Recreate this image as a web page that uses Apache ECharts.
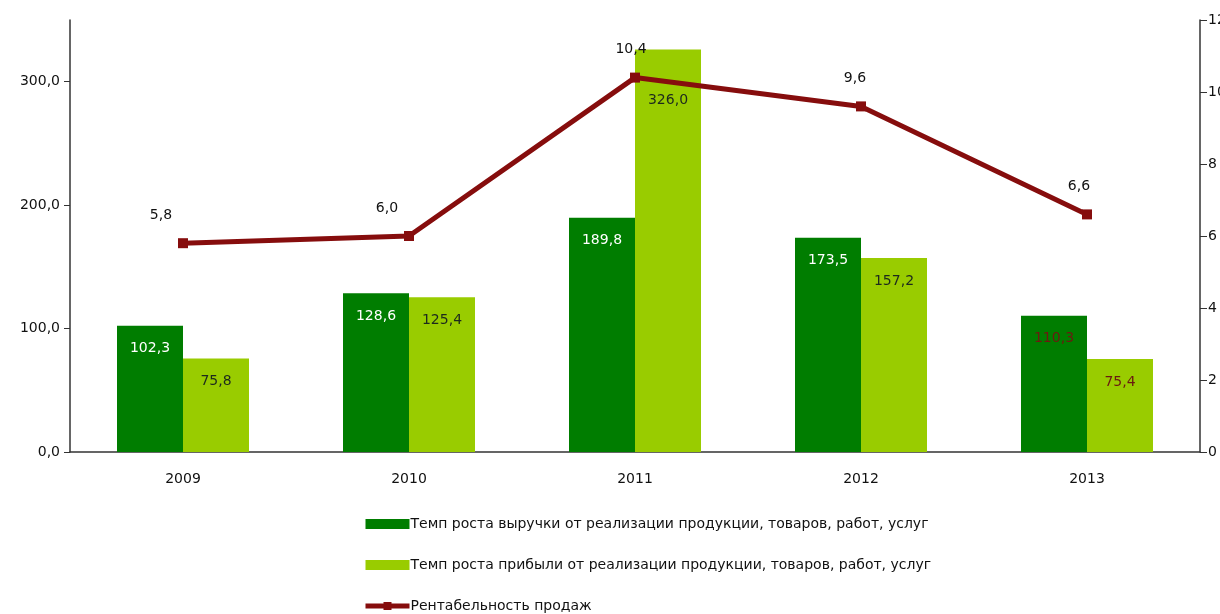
<!DOCTYPE html>
<html><head><meta charset="utf-8">
<script src="https://cdn.jsdelivr.net/npm/echarts@6/dist/echarts.min.js"></script>
<style>html,body{margin:0;padding:0;background:#fff}#c{width:1220px;height:614px}</style>
</head><body><div id="c"></div>
<script>
const categories = ['2009','2010','2011','2012','2013'];
const revenueGrowth = [102.3, 128.6, 189.8, 173.5, 110.3];
const profitGrowth = [75.8, 125.4, 326.0, 157.2, 75.4];
const profitability = [5.8, 6.0, 10.4, 9.6, 6.6];
const leftTicks = [0, 100, 200, 300];
const seriesNames = [
  'Темп роста выручки от реализации продукции, товаров, работ, услуг',
  'Темп роста прибыли от реализации продукции, товаров, работ, услуг',
  'Рентабельность продаж'
];
const fmt = v => v.toFixed(1).replace('.', ',');
const FONT = 'DejaVu Sans, Liberation Sans, sans-serif';
const lineOffsets = [[-22, 0], [-22, 0], [-4, 0], [-6, 0], [-8, 0]];

const revData = revenueGrowth.map((v, i) => ({
  value: v,
  label: { color: i === 4 ? '#6b1a10' : '#ffffff' }
}));
const profData = profitGrowth.map((v, i) => ({
  value: v,
  label: { color: i === 4 ? '#6b1a10' : '#1d2a1d', distance: i === 2 ? 44 : 16 }
}));
const lineData = profitability.map((v, i) => ({ value: v, label: { offset: lineOffsets[i] } }));

const chart = echarts.init(document.getElementById('c'));
chart.setOption({
  animation: false,
  textStyle: { fontFamily: FONT },
  grid: { left: 70, right: 20, top: 20, bottom: 162, containLabel: false, outerBoundsMode: 'none' },
  legend: {
    orient: 'vertical', left: 358, top: 512, height: 200,
    itemWidth: 44, itemHeight: 10, itemGap: 27,
    textStyle: { fontSize: 14, color: '#111', fontFamily: FONT, padding: [0, 0, 0, -4] },
    data: [
      { name: seriesNames[0], icon: 'rect' },
      { name: seriesNames[1], icon: 'rect' },
      { name: seriesNames[2], lineStyle: { width: 5, color: '#860d0d' }, itemStyle: { color: '#860d0d' } }
    ]
  },
  xAxis: {
    type: 'category', data: categories,
    axisLine: { lineStyle: { color: '#333', width: 1.5 } },
    axisTick: { show: false },
    axisLabel: { color: '#111', fontSize: 14, margin: 20, fontFamily: FONT }
  },
  yAxis: [
    {
      type: 'value', min: 0, max: 350, interval: 50,
      axisLine: { show: true, lineStyle: { color: '#333', width: 1.5 } },
      axisTick: { show: true, length: 6, lineStyle: { color: '#333' }, customValues: leftTicks },
      splitLine: { show: false },
      axisLabel: { color: '#111', fontSize: 14, margin: 10, fontFamily: FONT, customValues: leftTicks, formatter: v => fmt(v) }
    },
    {
      type: 'value', min: 0, max: 12, interval: 2, position: 'right',
      axisLine: { show: true, lineStyle: { color: '#333', width: 1.5 } },
      axisTick: { show: true, length: 7, lineStyle: { color: '#333' } },
      splitLine: { show: false },
      axisLabel: { color: '#111', fontSize: 14, margin: 8, fontFamily: FONT }
    }
  ],
  series: [
    {
      name: seriesNames[0], type: 'bar', data: revData, barWidth: 66, barGap: '0%',
      itemStyle: { color: '#007d00' },
      label: { show: true, position: 'insideTop', distance: 16, fontSize: 14, fontFamily: FONT, formatter: p => fmt(p.value) }
    },
    {
      name: seriesNames[1], type: 'bar', data: profData, barWidth: 66, barGap: '0%',
      itemStyle: { color: '#99cc00' },
      label: { show: true, position: 'insideTop', fontSize: 14, fontFamily: FONT, formatter: p => fmt(p.value) }
    },
    {
      name: seriesNames[2], type: 'line', yAxisIndex: 1, data: lineData,
      symbol: 'rect', symbolSize: 10,
      lineStyle: { color: '#860d0d', width: 5 },
      itemStyle: { color: '#860d0d' },
      label: { show: true, position: 'top', distance: 16, color: '#111', fontSize: 14, fontFamily: FONT, formatter: p => fmt(p.value) },
      z: 5
    }
  ]
});
</script></body></html>
